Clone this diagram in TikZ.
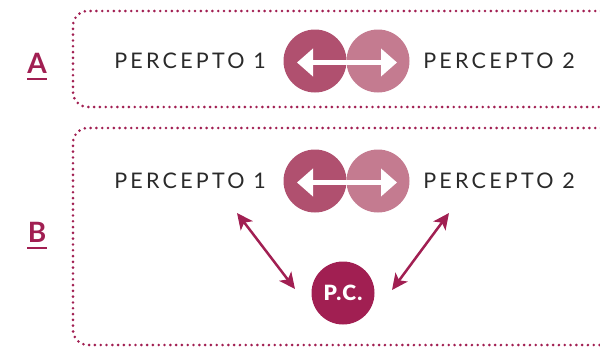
\documentclass[tikz,border=0pt]{standalone}
\usepackage{fontspec}
\setmainfont{Lato}
\newfontfamily\spaced[LetterSpace=15]{Lato}
\newfontfamily\boldspaced[LetterSpace=6]{Lato Black}
\usetikzlibrary{arrows.meta}
\definecolor{wine}{HTML}{A11F52}
\definecolor{roseA}{HTML}{B0506F}
\definecolor{roseB}{HTML}{C47B90}
\definecolor{ink}{HTML}{2A2A2A}
\tikzset{
  frame/.style={draw=wine, line width=2.9pt, line cap=round, dash pattern=on 0pt off 5.8pt, rounded corners=15pt},
  dot/.style={circle, minimum size=63pt, inner sep=0pt},
  percept/.style={text=ink, font=\spaced\fontsize{21.5}{24}\selectfont, inner sep=0pt},
  tag/.style={text=wine, font=\bfseries\fontsize{28}{30}\selectfont, inner sep=0pt},
  swap/.style={draw=white, line width=4.5pt, {Triangle[length=16pt,width=27pt]}-{Triangle[length=16pt,width=27pt]}, shorten <=-1pt, shorten >=-1pt},
  link/.style={draw=wine, line width=2.5pt, {Stealth[length=16pt,width=15pt,inset=4pt]}-{Stealth[length=16pt,width=15pt,inset=4pt]}}
}
\begin{document}
\begin{tikzpicture}[x=1pt,y=-1pt]
\useasboundingbox (0,0) rectangle (600,348);
% dotted frames, open past the right edge
\draw[frame] (630,11) -- (73,11) -- (73,107) -- (630,107);
\draw[frame] (630,128) -- (73,128) -- (73,345) -- (630,345);

% section labels
\node[tag] (la) at (37,63) {A};
\draw[wine, line width=2pt] (27,78.5) -- (47,78.5);
\node[tag] (lb) at (37,232) {B};
\draw[wine, line width=2pt] (27,248) -- (47,248);

% row A
\node[dot, fill=roseB] (a2) at (378,61) {};
\node[dot, fill=roseA] (a1) at (315,61) {};
\coordinate (a1e) at (298,62.5);
\coordinate (a2e) at (396,62.5);
\draw[swap] (a1e) -- (a2e);
\node[percept] (pa1) at (190,60.5) {PERCEPTO 1};
\node[percept] (pa2) at (499,60.5) {PERCEPTO 2};

% row B
\node[dot, fill=roseB] (b2) at (378,181) {};
\node[dot, fill=roseA] (b1) at (315,181) {};
\coordinate (b1e) at (298,182.5);
\coordinate (b2e) at (396,182.5);
\draw[swap] (b1e) -- (b2e);
\node[percept] (pb1) at (190,180.5) {PERCEPTO 1};
\node[percept] (pb2) at (499,180.5) {PERCEPTO 2};

% common percept
\node[dot, fill=wine, text=white, font=\boldspaced\fontsize{21}{23}\selectfont] (pc) at (343,293) {P.C.};
\coordinate (l1) at (237,213);
\coordinate (l2) at (295,289);
\coordinate (r1) at (449,213);
\coordinate (r2) at (392,290);
\draw[link] (l1) -- (l2);
\draw[link] (r1) -- (r2);
\end{tikzpicture}
\end{document}
